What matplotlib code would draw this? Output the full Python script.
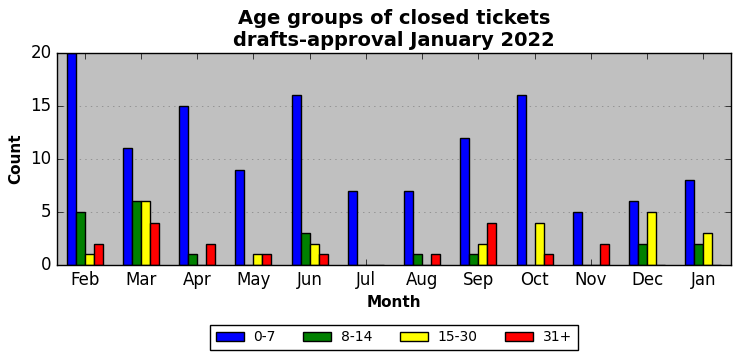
import numpy as np
import matplotlib
matplotlib.use('Agg')
import matplotlib.pyplot as plt

plt.style.use('classic')

months = ['Feb', 'Mar', 'Apr', 'May', 'Jun', 'Jul', 'Aug', 'Sep', 'Oct', 'Nov', 'Dec', 'Jan']
age_groups = ['0-7', '8-14', '15-30', '31+']
g0_7 = [20, 11, 15, 9, 16, 7, 7, 12, 16, 5, 6, 8]
g8_14 = [5, 6, 1, 0, 3, 0, 1, 1, 0, 0, 2, 2]
g15_30 = [1, 6, 0, 1, 2, 0, 0, 2, 4, 0, 5, 3]
g31 = [2, 4, 2, 1, 1, 0, 1, 4, 1, 2, 0, 0]
colors = ['blue', 'green', 'yellow', 'red']

fig = plt.figure(figsize=(7.42, 3.61), dpi=100)
ax = fig.add_axes([0.077, 0.266, 0.908, 0.587])
ax.set_facecolor('silver')

x = np.arange(len(months))
w = 0.16
for i, (vals, c, lab) in enumerate(zip([g0_7, g8_14, g15_30, g31], colors, age_groups)):
    ax.bar(x + (i - 2) * w, vals, w, align='edge', color=c, edgecolor='black',
           linewidth=1, label=lab, zorder=2)

ax.set_xticks(x)
ax.set_xticklabels(months)
ax.set_xlim(-0.49, 11.49)
ax.set_ylim(0, 20)
ax.set_yticks([0, 5, 10, 15, 20])
ax.yaxis.grid(True, linestyle=':', color='gray', zorder=0)
ax.set_axisbelow(True)
ax.tick_params(labelsize=12)

ax.set_title('Age groups of closed tickets\ndrafts-approval January 2022',
             fontsize=14, fontweight='bold')
ax.set_xlabel('Month', fontsize=11, fontweight='bold')
ax.set_ylabel('Count', fontsize=11, fontweight='bold')

ax.legend(loc='upper center', bbox_to_anchor=(0.5, -0.25), ncol=4,
          fontsize=10, frameon=True, fancybox=False, handlelength=2.0,
          handletextpad=0.7, columnspacing=2.0)

fig.savefig('out.png', dpi=100)
